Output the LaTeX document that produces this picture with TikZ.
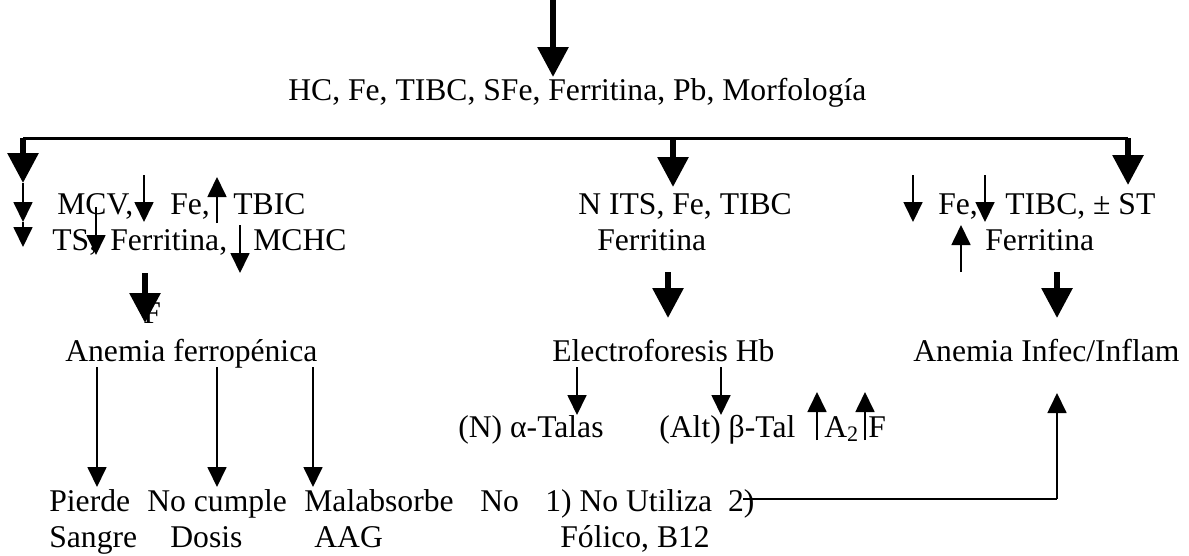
\documentclass[tikz,border=0pt]{standalone}
\usepackage{fontspec}
\setmainfont{Liberation Serif}
\usetikzlibrary{arrows.meta}

\begin{document}
\begin{tikzpicture}[x=0.02cm,y=-0.02cm,
                    every node/.style={anchor=base west,inner sep=0pt,
                                       font=\fontsize{18}{20}\selectfont},
                    big/.style={line width=0.12cm,
                                -{Triangle[width=0.6cm,length=0.6cm]}},
                    small/.style={line width=0.035cm,
                                  -{Triangle[width=0.38cm,length=0.4cm]}},
                    rule/.style={line width=0.06cm}]
  \useasboundingbox (0,0) rectangle (1189,555);

  \node (lab)     at (288,100) {HC, Fe, TIBC, SFe, Ferritina, Pb, Morfología};

  % left branch
  \node (mcv)     at (57,214)  {MCV,};
  \node (fe1)     at (170,214) {Fe,};
  \node (tbic)    at (233,214) {TBIC};
  \node (ts)      at (52,250)  {TS,};
  \node (fer1)    at (110,250) {Ferritina,};
  \node (mchc)    at (253,250) {MCHC};
  \node (f1)      at (143,323) {F};
  \node (ferro)   at (65,361)  {Anemia ferropénica};

  % middle branch
  \node (its)     at (578,214) {N ITS, Fe, TIBC};
  \node (fer2)    at (597,250) {Ferritina};
  \node (elec)    at (552,361) {Electroforesis Hb};
  \node (alfa)    at (458,437) {(N) α-Talas};
  \node (beta)    at (659,437) {(Alt) β-Tal};
  \node (a2)      at (824,437) {A\textsubscript{2}};
  \node (f2)      at (868,437) {F};

  % right branch
  \node (fe3)     at (938,214) {Fe,};
  \node (tibc)    at (1005,214) {TIBC, ± ST};
  \node (fer3)    at (985,250) {Ferritina};
  \node (infl)    at (913,361) {Anemia Infec/Inflam};

  % causes
  \node (pierde)  at (49,511)  {Pierde};
  \node (sangre)  at (49,547)  {Sangre};
  \node (cumple)  at (147,511) {No cumple};
  \node (dosis)   at (170,547) {Dosis};
  \node (malab)   at (304,511) {Malabsorbe};
  \node (aag)     at (314,547) {AAG};
  \node (no)      at (480,511) {No};
  \node (utiliza) at (545,511) {1) No Utiliza\ \ 2)};
  \node (folico)  at (560,547) {Fólico, B12};

  \coordinate (bl) at (23,138);
  \coordinate (br) at (1128,138);
  \draw[rule] (bl) -- (br);

  \foreach \x/\a/\b [count=\i] in {553/0/77, 23/138/183, 673/138/187,
      1128/138/185, 145/273/323, 668/272/318, 1057/272/318}
  {
    \coordinate (bt\i) at (\x,\a);
    \coordinate (bh\i) at (\x,\b);
    \draw[big] (bt\i) -- (bh\i);
  }

  \foreach \x/\a/\b [count=\i] in {23/183/222, 23/222/247, 144/175/222,
      217/223/177, 96/207/255, 240/225/273, 913/175/222, 985/175/222,
      961/272/225, 577/367/415, 721/367/415, 817/440/392, 865/440/392,
      97/367/487, 217/367/487, 313/367/487}
  {
    \coordinate (st\i) at (\x,\a);
    \coordinate (sh\i) at (\x,\b);
    \draw[small] (st\i) -- (sh\i);
  }

  \coordinate (ret)    at (743,499);
  \coordinate (corner) at (1057,499);
  \coordinate (back)   at (1057,393);
  \draw[line width=0.035cm] (ret) -- (corner);
  \draw[small] (corner) -- (back);
\end{tikzpicture}
\end{document}
